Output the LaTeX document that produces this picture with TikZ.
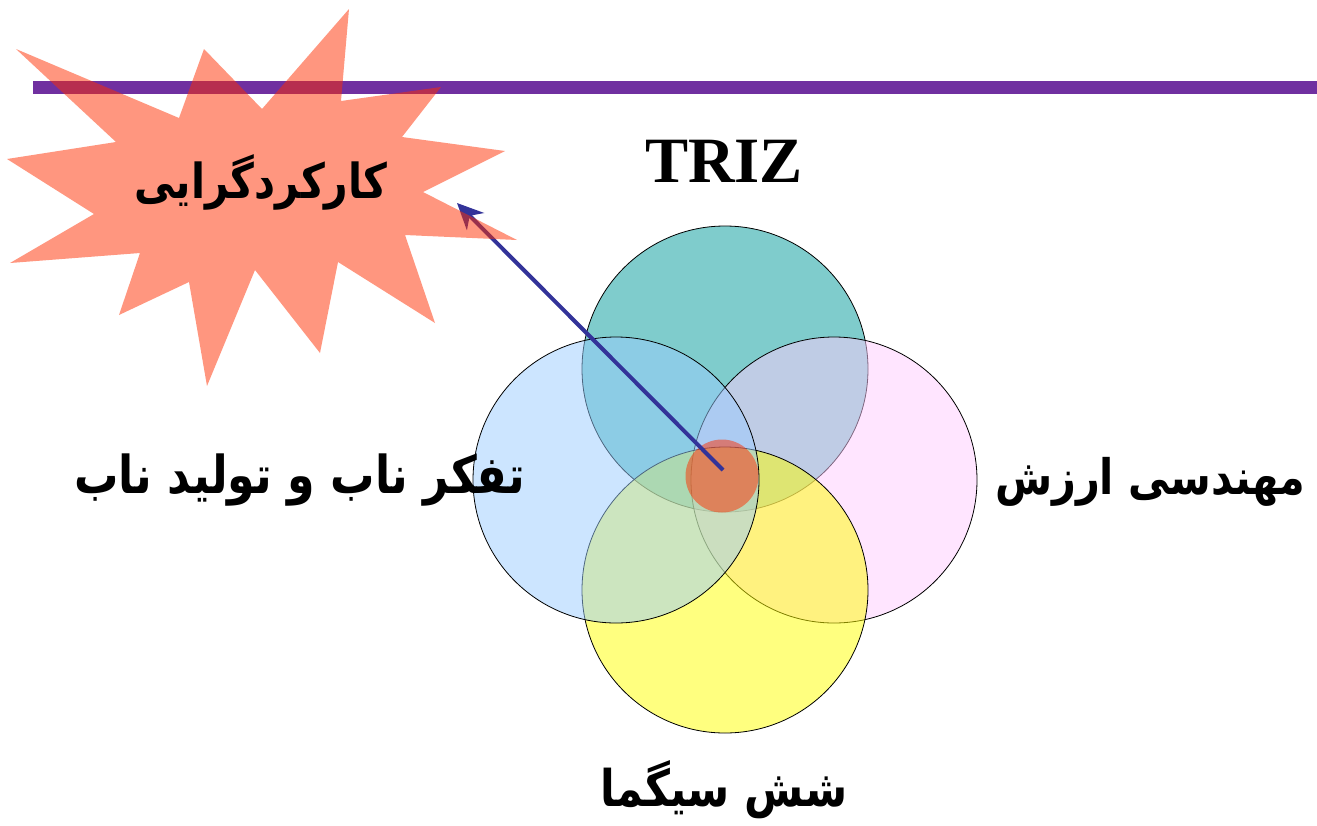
\documentclass[tikz,border=0pt]{standalone}
\usepackage{fontspec}
\setmainfont{Liberation Serif}
\newfontfamily\arabicfont[Script=Arabic]{DejaVu Sans}
\TeXXeTstate=1
\usetikzlibrary{arrows.meta}
\definecolor{linepurple}{RGB}{112,48,160}
\definecolor{burst}{RGB}{255,46,0}
\definecolor{tealc}{RGB}{0,153,153}
\definecolor{bluec}{RGB}{153,204,255}
\definecolor{pinkc}{RGB}{255,204,255}
\definecolor{yellowc}{RGB}{255,255,0}
\definecolor{arrowc}{RGB}{51,51,153}
\newcommand{\fatxt}[2]{\scalebox{1}[1.18]{\resizebox{#1}{!}{#2}}}
\begin{document}
\begin{tikzpicture}[x=1pt,y=-1pt,
  venn/.style={circle, minimum size=286pt, inner sep=0pt, draw=black, line width=0.8pt, fill opacity=0.5},
  fatext/.style={font=\arabicfont\bfseries\fontsize{40}{48}\selectfont, anchor=base, inner sep=0pt},
  burstfill/.style={fill=burst, fill opacity=0.5}
]
\useasboundingbox (0,0) rectangle (1317,825);
\fill[linepurple] (33,81) rectangle (1317,94);
\node[venn, fill=tealc] (triz) at (725,369) {};
\node[venn, fill=pinkc] (ve) at (834,480) {};
\node[venn, fill=yellowc] (six) at (725,590) {};
\node[venn, fill=bluec] (lean) at (616,480) {};
\node[circle, minimum size=73pt, inner sep=0pt, burstfill] (core) at (722,476) {};
\coordinate (src) at (723,470);
\coordinate (tip) at (457,203);
\draw[arrowc, line width=4pt, -{Stealth[length=26pt,width=24pt,inset=8pt]}] (src) -- (tip);
\fill[burstfill] (16,49) -- (179,118) -- (204,49) -- (262,109) -- (349,9) -- (341,101) -- (441,87) -- (402,137) -- (505,151) -- (423,192) -- (517,240) -- (405,235) -- (435,323) -- (338,262) -- (320,353) -- (255,270) -- (207,386) -- (189,282) -- (119,315) -- (140,253) -- (10,263) -- (94,214) -- (7,159) -- (116,142) -- cycle;
\node[fatext] (func) at (261,198) {\fatxt{253pt}{\beginR کارکردگرایی\endR}};
\node[font=\bfseries\fontsize{60}{60}\selectfont, anchor=base, inner sep=0pt] (trizlabel) at (724,182) {\resizebox{158pt}{!}{TRIZ}};
\node[fatext] (leanlabel) at (300,493) {\fatxt{451pt}{\beginR تفکر ناب و تولید ناب\endR}};
\node[fatext] (velabel) at (1150,494) {\fatxt{310pt}{\beginR مهندسی ارزش\endR}};
\node[fatext] (sixlabel) at (724,806) {\fatxt{247pt}{\beginR شش سیگما\endR}};
\end{tikzpicture}
\end{document}
